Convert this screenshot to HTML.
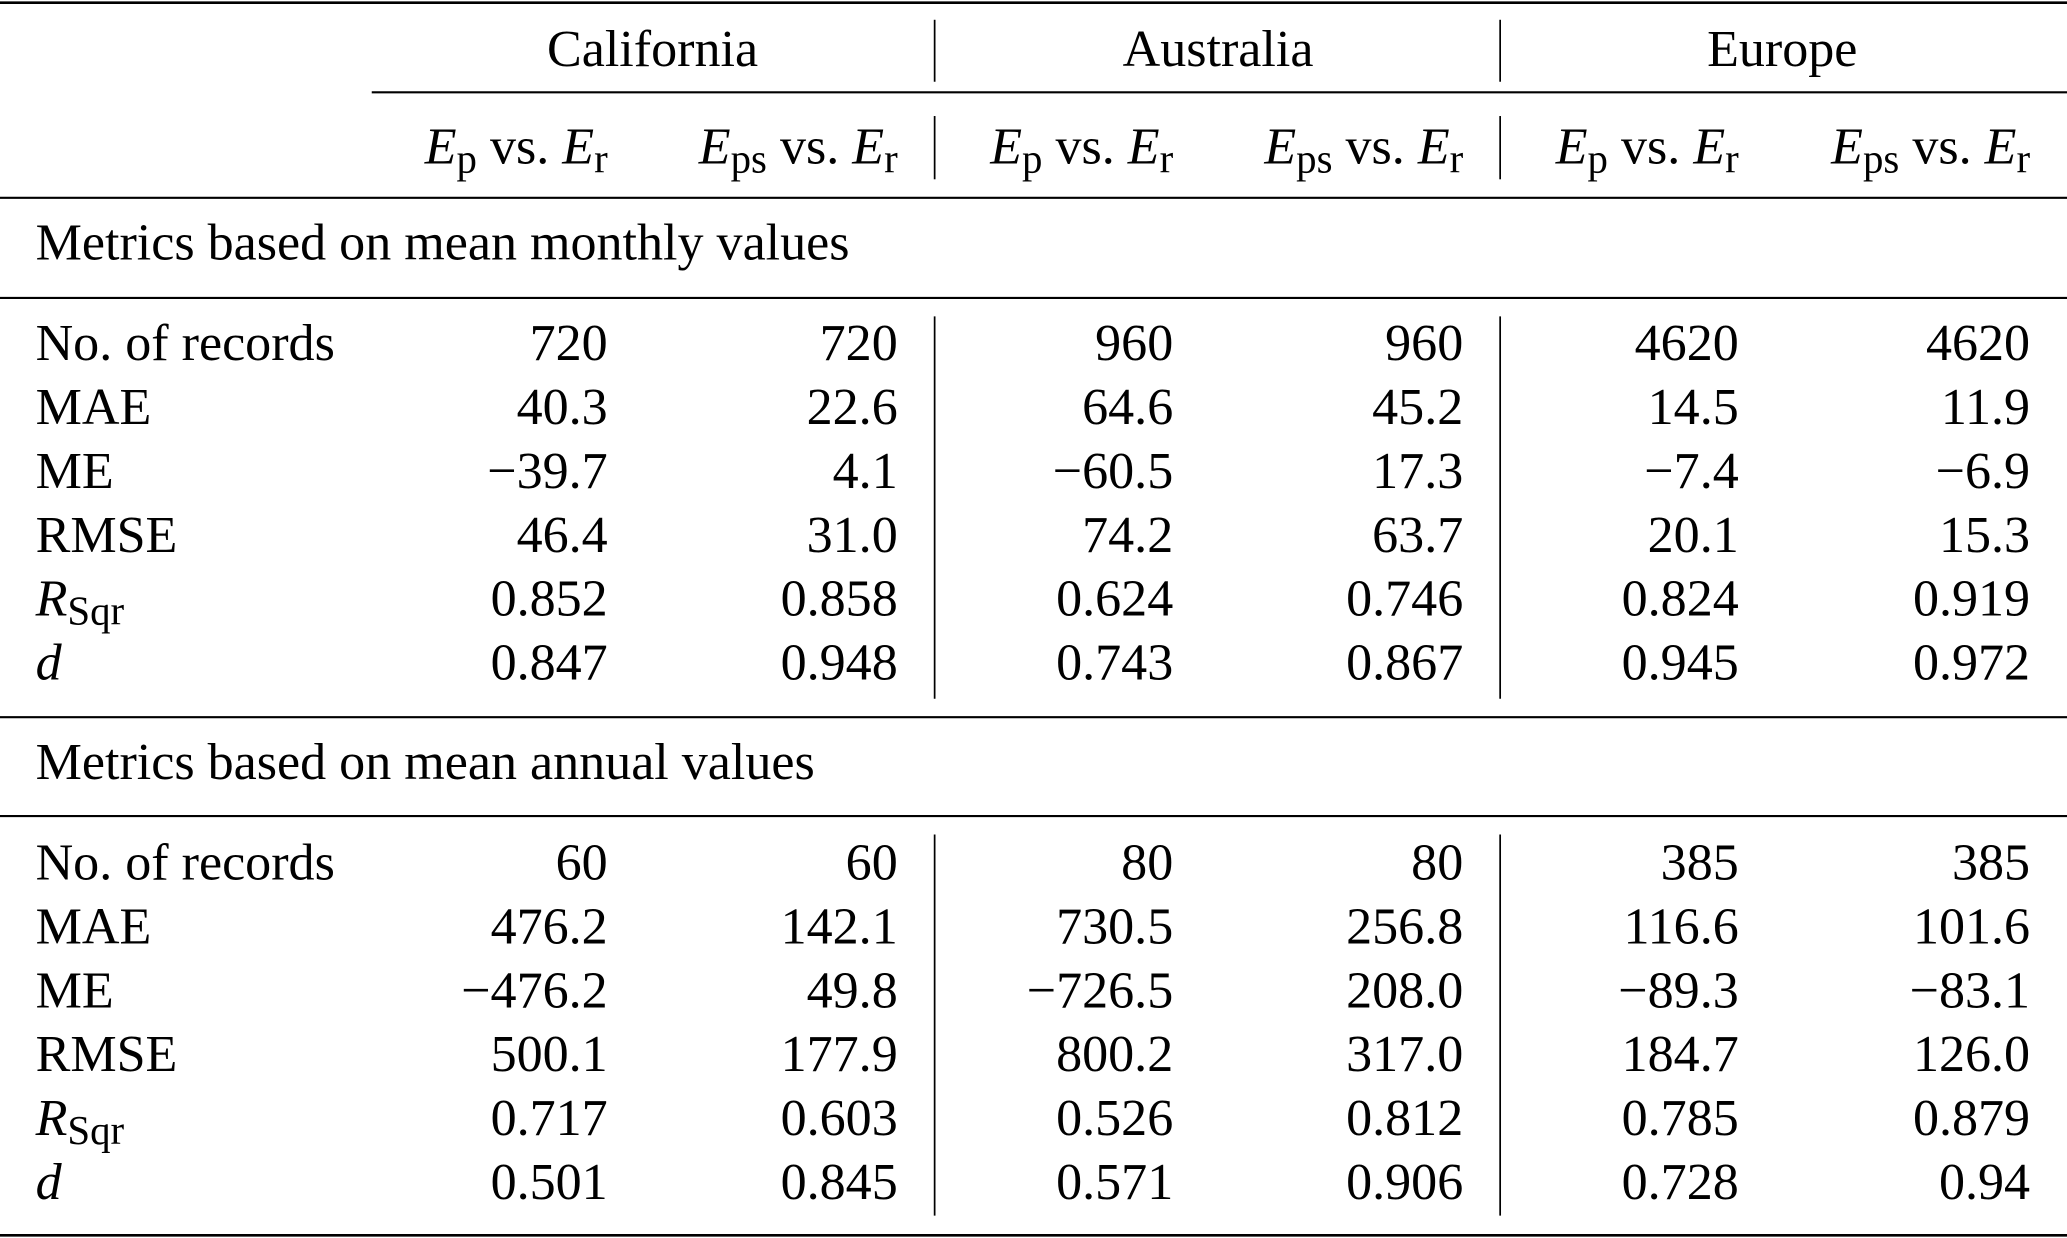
<!DOCTYPE html>
<html><head><meta charset="utf-8"><style>
html,body{margin:0;padding:0;background:#fff;}
svg{display:block;}
text{font-family:"Liberation Serif","DejaVu Serif",serif;font-size:39.5px;fill:#000;}
</style></head><body>
<svg id="tbl" width="2067" height="1238" viewBox="0 0 1568 939" preserveAspectRatio="none" xmlns="http://www.w3.org/2000/svg"></svg>
<script>
const regions = ["California", "Australia", "Europe"];
const rowLabels = ["No. of records", "MAE", "ME", "RMSE", "RSqr", "d"];
const monthlyValues = [
  ["720","720","960","960","4620","4620"],
  ["40.3","22.6","64.6","45.2","14.5","11.9"],
  ["\u221239.7","4.1","\u221260.5","17.3","\u22127.4","\u22126.9"],
  ["46.4","31.0","74.2","63.7","20.1","15.3"],
  ["0.852","0.858","0.624","0.746","0.824","0.919"],
  ["0.847","0.948","0.743","0.867","0.945","0.972"]
];
const annualValues = [
  ["60","60","80","80","385","385"],
  ["476.2","142.1","730.5","256.8","116.6","101.6"],
  ["\u2212476.2","49.8","\u2212726.5","208.0","\u221289.3","\u221283.1"],
  ["500.1","177.9","800.2","317.0","184.7","126.0"],
  ["0.717","0.603","0.526","0.812","0.785","0.879"],
  ["0.501","0.845","0.571","0.906","0.728","0.94"]
];
const svg = document.getElementById('tbl');
const NS = 'http://www.w3.org/2000/svg';
const colRight = [461, 681, 890, 1110, 1319, 1540];
const regionCenter = [495, 924, 1352];
function line(x1,y1,x2,y2,w,name){
  const l=document.createElementNS(NS,'line');
  l.setAttribute('x1',x1);l.setAttribute('y1',y1);l.setAttribute('x2',x2);l.setAttribute('y2',y2);
  l.setAttribute('stroke','#000');l.setAttribute('stroke-width',w);
  
  
  svg.appendChild(l);
}
function txt(x,y,s,anchor,name){
  const t=document.createElementNS(NS,'text');
  t.setAttribute('x',x);t.setAttribute('y',y);
  t.setAttribute('text-anchor',anchor);
  t.textContent=s;
  
  
  svg.appendChild(t);
  return t;
}
function span(t,s,opts){
  const sp=document.createElementNS(NS,'tspan');
  sp.textContent=s;
  if(opts.italic) sp.setAttribute('font-style','italic');
  if(opts.sub){ sp.setAttribute('baseline-shift','-22%'); sp.setAttribute('font-size','31px'); }
  t.appendChild(sp);
}
line(0,2,1568,2,2,'top-rule');
line(282,70,1568,70,1.6,'region-rule');
line(0,150,1568,150,1.6,'header-bottom-rule');
line(0,226,1568,226,1.6,'monthly-section-rule');
line(0,544,1568,544,1.6,'monthly-end-rule');
line(0,619,1568,619,1.6,'annual-section-rule');
line(0,937,1568,937,2,'bottom-rule');
[709,1138].forEach((x,i)=>{
  line(x,15,x,62,1.3,'region-divider');
  line(x,88,x,136,1.3,'subheader-divider');
  line(x,240,x,530,1.3,'monthly-divider');
  line(x,633,x,922,1.3,'annual-divider');
});
regions.forEach((r,i)=>{ txt(regionCenter[i],50,r,'middle','region-header'); });
for(let c=0;c<6;c++){
  const t=txt(colRight[c],124,'','end','column-header');
  span(t,'E',{italic:true});
  span(t,c%2===0?'p':'ps',{sub:true});
  span(t,' vs. ',{});
  span(t,'E',{italic:true});
  span(t,'r',{sub:true});
}
txt(27,197,'Metrics based on mean monthly values','start','monthly-section-title');
txt(27,591,'Metrics based on mean annual values','start','annual-section-title');
function body(vals,y0,prefix){
  rowLabels.forEach((lab,r)=>{
    const y=y0+r*48.5;
    let t;
    if(lab==='RSqr'){ t=txt(27,y,'','start','row-label'); span(t,'R',{italic:true}); span(t,'Sqr',{sub:true}); }
    else if(lab==='d'){ t=txt(27,y,'','start','row-label'); span(t,'d',{italic:true}); }
    else txt(27,y,lab,'start','row-label');
    vals[r].forEach((v,c)=>{ txt(colRight[c],y,v,'end',prefix+'-cell'); });
  });
}
body(monthlyValues,273,'monthly');
body(annualValues,667,'annual');
</script>
</body></html>
